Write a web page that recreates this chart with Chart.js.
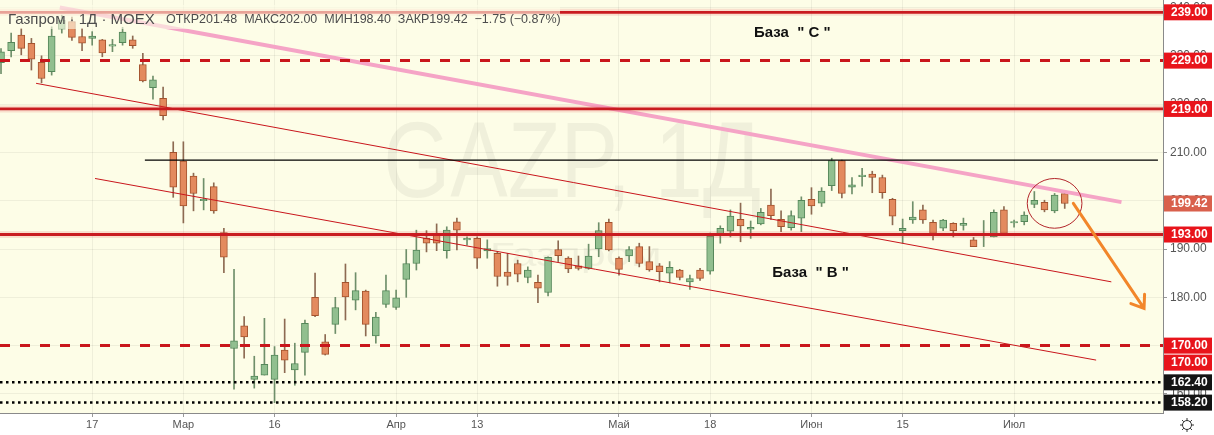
<!DOCTYPE html>
<html lang="ru">
<head>
<meta charset="UTF-8">
<title>Газпром 1Д MOEX</title>
<script src="https://cdn.jsdelivr.net/npm/chart.js@4.4.1/dist/chart.umd.min.js"></script>
<style>
  html, body { margin: 0; padding: 0; background: #fff; }
  canvas { display: block; }
</style>
</head>
<body>
<canvas id="chart" width="1214" height="435"></canvas>
<script>
// daily candles, GAZP, Feb..Jul 2020
var opens = [228.6, 231.05, 234.3, 232.6, 228.65, 226.7, 235.5, 237.1, 234.0, 233.6,
  233.3, 232.0, 232.7, 233.3, 228.2, 223.4, 221.2, 210.0, 208.2, 205.1,
  200.0, 202.9, 193.4, 169.4, 174.1, 163.0, 163.9, 163.0, 169.1, 164.95,
  168.6, 180.0, 170.8, 174.4, 183.1, 179.4, 181.3, 172.0, 178.55, 177.9,
  183.7, 187.0, 192.2, 193.1, 189.65, 195.65, 191.9, 192.2, 189.6, 189.1,
  185.2, 187.0, 184.1, 183.1, 181.0, 189.9, 188.1, 186.5, 186.0, 190.0,
  195.5, 188.1, 188.55, 190.5, 187.4, 186.5, 185.0, 185.65, 183.2, 185.65,
  185.4, 193.1, 193.7, 196.15, 194.1, 195.2, 199.1, 196.15, 194.4, 196.4,
  200.3, 199.5, 203.1, 208.3, 202.8, 205.0, 205.5, 204.8, 200.3, 193.8,
  196.0, 198.1, 195.5, 194.3, 195.3, 194.9, 191.9, 192.8, 192.5, 198.1,
  195.4, 195.65, 199.25, 199.65, 197.9, 201.48];
var highs = [231.5, 234.7, 235.7, 233.6, 230.0, 236.0, 238.4, 238.0, 235.7, 235.0,
  233.4, 233.4, 235.9, 234.1, 230.5, 225.8, 223.5, 212.2, 212.2, 205.7,
  204.6, 203.7, 194.3, 185.8, 176.0, 167.8, 175.65, 169.8, 175.5, 170.5,
  175.3, 185.0, 172.3, 180.0, 186.9, 185.1, 181.5, 176.9, 184.6, 181.5,
  189.9, 193.9, 193.8, 195.2, 194.6, 196.4, 192.5, 192.5, 191.9, 189.4,
  189.1, 187.7, 186.3, 184.6, 188.4, 191.7, 188.4, 188.55, 191.0, 195.45,
  196.2, 188.4, 190.5, 191.2, 190.5, 187.0, 187.4, 185.8, 184.6, 186.0,
  193.3, 194.8, 198.1, 199.5, 195.8, 198.4, 202.4, 197.9, 197.9, 200.8,
  202.7, 202.7, 208.8, 208.4, 204.8, 206.7, 206.1, 205.3, 200.5, 196.2,
  199.8, 199.1, 196.0, 196.15, 195.45, 196.4, 192.4, 195.9, 198.1, 198.8,
  196.0, 197.7, 201.9, 200.1, 201.5, 202.0];
var lows = [226.3, 229.75, 230.2, 227.05, 224.4, 226.0, 234.7, 233.2, 231.05, 232.2,
  229.8, 230.85, 232.2, 231.55, 224.6, 221.0, 216.7, 200.7, 195.4, 197.9,
  198.1, 197.4, 185.1, 161.0, 167.4, 161.2, 163.9, 158.2, 164.4, 161.8,
  163.9, 176.0, 168.05, 172.5, 175.3, 177.4, 172.0, 170.5, 177.9, 177.5,
  180.0, 185.65, 189.4, 189.65, 188.1, 189.8, 190.8, 186.0, 188.1, 182.3,
  182.5, 183.2, 183.0, 178.9, 180.3, 187.4, 185.1, 185.65, 185.8, 188.4,
  189.6, 184.6, 187.4, 186.3, 185.4, 183.2, 183.0, 183.6, 181.65, 183.5,
  184.8, 191.2, 192.5, 191.5, 192.2, 195.0, 196.15, 193.6, 193.9, 193.6,
  197.2, 198.8, 202.1, 200.6, 201.4, 203.0, 201.65, 200.5, 195.0, 191.2,
  195.3, 195.3, 191.9, 193.8, 192.5, 193.9, 190.5, 190.5, 192.5, 193.25,
  194.5, 195.0, 198.55, 197.7, 197.5, 198.4];
var closes = [230.8, 232.8, 231.55, 229.3, 225.3, 234.1, 237.4, 233.8, 232.6, 234.1,
  230.6, 232.3, 234.9, 232.1, 224.8, 225.0, 217.6, 202.8, 198.9, 201.5,
  200.3, 197.9, 188.3, 171.0, 171.8, 163.7, 166.1, 168.05, 167.0, 166.3,
  174.6, 176.2, 168.2, 177.9, 180.1, 181.4, 174.4, 175.9, 181.4, 179.9,
  187.0, 189.8, 191.2, 191.2, 193.9, 193.9, 192.2, 188.1, 190.1, 184.3,
  184.3, 184.8, 185.65, 181.9, 188.3, 188.6, 185.9, 186.0, 188.55, 193.8,
  189.8, 185.8, 189.9, 187.0, 185.65, 185.3, 186.2, 184.1, 183.9, 183.9,
  192.7, 194.3, 196.8, 194.8, 194.5, 197.6, 196.9, 194.6, 196.9, 200.1,
  198.9, 202.0, 208.3, 201.5, 203.3, 205.3, 204.8, 201.65, 196.8, 194.3,
  196.6, 196.0, 193.25, 196.0, 193.8, 195.3, 190.5, 193.1, 197.6, 193.25,
  195.7, 197.0, 200.1, 198.1, 201.17, 199.42];

// x axis: candle number -> label
var tickIdx = [9, 18, 27, 39, 47, 61, 70, 80, 89, 100];
var tickText = ['17', 'Мар', '16', 'Апр', '13', 'Май', '18', 'Июн', '15', 'Июл'];
var yTicks = [160, 170, 180, 190, 200, 210, 220, 230, 240];

// drawn levels
var levelsSolid = [239, 219, 193];
var levelsDashed = [229, 170];
var levelsDotted = [162.4, 158.2];
var blackLine = [[14.2, 208.4], [114.2, 208.4]];
var pinkLine = [[5.8, 240.0], [110.6, 199.7]];
var channelTop = [[3.46, 224.3], [109.6, 183.2]];
var channelBottom = [[9.28, 204.6], [108.1, 167.0]];
var ring = [101.3, 106.7, 204.6, 194.3];      // idx from, idx to, top, bottom
var arrowFrom = [105.85, 199.46];
var arrowTo = [112.83, 177.72];
var baseC = [78.1, 234.7];
var baseB = [79.9, 185.0];

// price badges on the right axis
var badgeValues = [239, 229, 219, 199.42, 193, 170, 170, 162.4, 158.2];
var badgeKind = ['lvl', 'lvl', 'lvl', 'last', 'lvl', 'lvl', 'lvl', 'dot', 'dot'];

var xMin = -0.1, xMax = 114.7, yMin = 156.05, yMax = 241.55;

Chart.defaults.font.family = '"Liberation Sans", "DejaVu Sans", sans-serif';

var n = opens.length;
var idx = opens.map(function (_, i) { return i; });
var up = idx.map(function (i) { return closes[i] >= opens[i]; });

function pts(list) {
    return list.map(function (p) { return { x: p[0], y: p[1] }; });
}
function hline(v) {
    return [{ x: xMin, y: v }, { x: xMax, y: v }];
}
function lineSet(data, color, width, dash) {
    return {
        type: 'line', data: data, borderColor: color, borderWidth: width,
        borderDash: dash || [], pointRadius: 0, fill: false, tension: 0, order: 0
    };
}

var datasets = [];
datasets.push({
    type: 'bar',
    data: idx.map(function (i) { return { x: i, y: [lows[i], highs[i]] }; }),
    backgroundColor: idx.map(function (i) { return up[i] ? '#6f8f6a' : '#8d6a52'; }),
    barThickness: 1, grouped: false, order: 3
});
datasets.push({
    type: 'bar',
    data: idx.map(function (i) { return { x: i, y: [opens[i], closes[i]] }; }),
    backgroundColor: idx.map(function (i) { return up[i] ? '#91bf8f' : '#e38a5e'; }),
    borderColor: idx.map(function (i) { return up[i] ? '#55875a' : '#a4532e'; }),
    borderWidth: 1, borderSkipped: false, barThickness: 7, grouped: false, order: 2
});
levelsSolid.forEach(function (v) {
    datasets.push(lineSet(hline(v), 'rgba(230, 70, 70, 0.16)', 7));
    datasets.push(lineSet(hline(v), '#c4141a', 2.8));
});
levelsDashed.forEach(function (v) {
    datasets.push(lineSet(hline(v), '#c9161c', 3, [10, 10]));
});
levelsDotted.forEach(function (v) {
    datasets.push(lineSet(hline(v), '#000', 2.5, [2.5, 3.5]));
});
datasets.push(lineSet(pts(blackLine), '#000', 1.3));
datasets.push(lineSet(pts(channelTop), '#c9161c', 1));
datasets.push(lineSet(pts(channelBottom), '#c9161c', 1));
datasets.push(lineSet(pts(pinkLine), '#f5a4c6', 4));

var paper = {
    id: 'paper',
    beforeDraw: function (chart) {
        var ctx = chart.ctx, a = chart.chartArea;
        ctx.save();
        ctx.fillStyle = '#ffffff';
        ctx.fillRect(0, 0, chart.width, chart.height);
        ctx.fillStyle = '#fdfde7';
        ctx.fillRect(a.left, a.top, a.right - a.left, a.bottom - a.top);
        ctx.restore();
    },
    beforeDatasetsDraw: function (chart) {
        var ctx = chart.ctx, a = chart.chartArea;
        var w = a.right - a.left, h = a.bottom - a.top;
        ctx.save();
        ctx.fillStyle = 'rgba(0, 0, 0, 0.05)';
        ctx.textAlign = 'center';
        ctx.textBaseline = 'alphabetic';
        ctx.font = '108px "Liberation Sans"';
        var t1 = 'GAZP, 1Д';
        var m1 = ctx.measureText(t1).width;
        ctx.translate(a.left + w * 0.492, a.top + h * 0.477);
        ctx.scale(378 / m1, 1);
        ctx.fillText(t1, 0, 0);
        ctx.restore();
        ctx.save();
        ctx.fillStyle = 'rgba(0, 0, 0, 0.05)';
        ctx.textAlign = 'center';
        ctx.font = '34px "Liberation Sans"';
        var t2 = 'Газпром';
        var m2 = ctx.measureText(t2).width;
        ctx.translate(a.left + w * 0.495, a.top + h * 0.645);
        ctx.scale(172 / m2, 1);
        ctx.fillText(t2, 0, 0);
        ctx.restore();
    }
};

var annot = {
    id: 'annot',
    afterDatasetsDraw: function (chart) {
        var ctx = chart.ctx, xs = chart.scales.x, ys = chart.scales.y, a = chart.chartArea;
        function X(v) { return xs.getPixelForValue(v); }
        function Y(v) { return ys.getPixelForValue(v); }
        ctx.save();

        // ring round the last candles
        ctx.beginPath();
        ctx.ellipse(X((ring[0] + ring[1]) / 2), Y((ring[2] + ring[3]) / 2),
            (X(ring[1]) - X(ring[0])) / 2, (Y(ring[3]) - Y(ring[2])) / 2, 0, 0, Math.PI * 2);
        ctx.strokeStyle = '#b3262b';
        ctx.lineWidth = 1;
        ctx.stroke();

        // orange arrow
        var x1 = X(arrowFrom[0]), y1 = Y(arrowFrom[1]), x2 = X(arrowTo[0]), y2 = Y(arrowTo[1]);
        var ang = Math.atan2(y2 - y1, x2 - x1);
        ctx.strokeStyle = '#f2862a';
        ctx.lineWidth = 3;
        ctx.lineCap = 'round';
        ctx.beginPath();
        ctx.moveTo(x1, y1);
        ctx.lineTo(x2, y2);
        ctx.moveTo(x2 - 14 * Math.cos(ang - 0.63), y2 - 14 * Math.sin(ang - 0.63));
        ctx.lineTo(x2, y2);
        ctx.lineTo(x2 - 14 * Math.cos(ang + 0.63), y2 - 14 * Math.sin(ang + 0.63));
        ctx.stroke();

        // zone captions
        ctx.fillStyle = '#111';
        ctx.font = 'bold 15px "Liberation Sans"';
        ctx.textAlign = 'center';
        ctx.textBaseline = 'middle';
        ctx.fillText('База  " С "', X(baseC[0]), Y(baseC[1]));
        ctx.fillText('База  " В "', X(baseB[0]), Y(baseB[1]));

        // legend line at the top left
        ctx.fillStyle = 'rgba(253, 253, 232, 0.6)';
        ctx.fillRect(a.left, a.top + 5, 560, 24);
        var last = n - 1;
        var chg = closes[last] - closes[last - 1];
        var pct = chg / closes[last - 1] * 100;
        var sign = function (v) { return (v < 0 ? '−' : '+') + Math.abs(v).toFixed(2); };
        ctx.textAlign = 'left';
        ctx.textBaseline = 'alphabetic';
        ctx.fillStyle = '#4d4d4d';
        ctx.font = '15px "Liberation Sans"';
        ctx.fillText('Газпром · 1Д · MOEX', a.left + 8, a.top + 24);
        ctx.font = '12.5px "Liberation Sans"';
        ctx.fillText('ОТКР' + opens[last].toFixed(2) + '  МАКС' + highs[last].toFixed(2) +
            '  МИН' + lows[last].toFixed(2) + '  ЗАКР' + closes[last].toFixed(2) +
            '  ' + sign(chg) + ' (' + sign(pct) + '%)', a.left + 166, a.top + 23);
        ctx.restore();
    },
    afterDraw: function (chart) {
        var ctx = chart.ctx, ys = chart.scales.y, a = chart.chartArea;
        var fills = { lvl: '#e8141b', last: '#d9604c', dot: '#141414' };
        var items = badgeValues.map(function (v, k) {
            return { v: v, y: ys.getPixelForValue(v), c: fills[badgeKind[k]] };
        });
        items.sort(function (p, q) { return p.y - q.y; });
        for (var k = 1; k < items.length; k++) {
            if (items[k].y < items[k - 1].y + 17) items[k].y = items[k - 1].y + 17;
        }
        var lim = a.bottom - 8;
        for (k = items.length - 1; k >= 0; k--) {
            if (items[k].y > lim) items[k].y = lim;
            lim = items[k].y - 17;
        }
        ctx.save();
        items.forEach(function (it) {
            ctx.fillStyle = it.c;
            ctx.fillRect(a.right + 1, it.y - 8, 48, 16);
            ctx.fillStyle = '#fff';
            ctx.font = 'bold 12px "Liberation Sans"';
            ctx.textAlign = 'left';
            ctx.textBaseline = 'middle';
            ctx.fillText(it.v.toFixed(2), a.right + 8, it.y + 0.5);
        });

        // settings gear in the corner
        var gx = a.right + 24, gy = a.bottom + 12;
        ctx.strokeStyle = '#333';
        ctx.lineWidth = 1;
        ctx.beginPath();
        ctx.arc(gx, gy, 4.5, 0, Math.PI * 2);
        for (var s = 0; s < 8; s++) {
            var t = s * Math.PI / 4;
            ctx.moveTo(gx + 4.5 * Math.cos(t), gy + 4.5 * Math.sin(t));
            ctx.lineTo(gx + 7 * Math.cos(t), gy + 7 * Math.sin(t));
        }
        ctx.stroke();
        ctx.restore();
    }
};

new Chart(document.getElementById('chart'), {
    type: 'bar',
    data: { datasets: datasets },
    options: {
        responsive: false,
        animation: false,
        layout: { padding: 0 },
        plugins: { legend: { display: false }, tooltip: { enabled: false } },
        scales: {
            x: {
                type: 'linear', min: xMin, max: xMax, offset: false,
                grid: { color: 'rgba(0, 0, 0, 0.055)', tickLength: 4, tickColor: '#999', offset: false },
                border: { color: '#8a8a8a' },
                ticks: {
                    color: '#555', font: { size: 11 }, maxRotation: 0, autoSkip: false, padding: 1,
                    callback: function (v) {
                        var k = tickIdx.indexOf(v);
                        return k < 0 ? '' : tickText[k];
                    }
                },
                afterBuildTicks: function (s) {
                    s.ticks = tickIdx.map(function (v) { return { value: v }; });
                },
                afterFit: function (s) {
                    s.height = 22;
                    s.paddingLeft = 0;
                    s.paddingRight = 0;
                }
            },
            y: {
                position: 'right', min: yMin, max: yMax,
                grid: { color: 'rgba(0, 0, 0, 0.055)', tickLength: 4, tickColor: '#999' },
                border: { color: '#8a8a8a' },
                ticks: {
                    color: '#555', font: { size: 12 }, padding: 3,
                    callback: function (v) { return v.toFixed(2); }
                },
                afterBuildTicks: function (s) {
                    s.ticks = yTicks.map(function (v) { return { value: v }; });
                },
                afterFit: function (s) {
                    s.width = 51;
                    s.paddingTop = 0;
                    s.paddingBottom = 0;
                }
            }
        }
    },
    plugins: [paper, annot]
});
</script>
</body>
</html>
